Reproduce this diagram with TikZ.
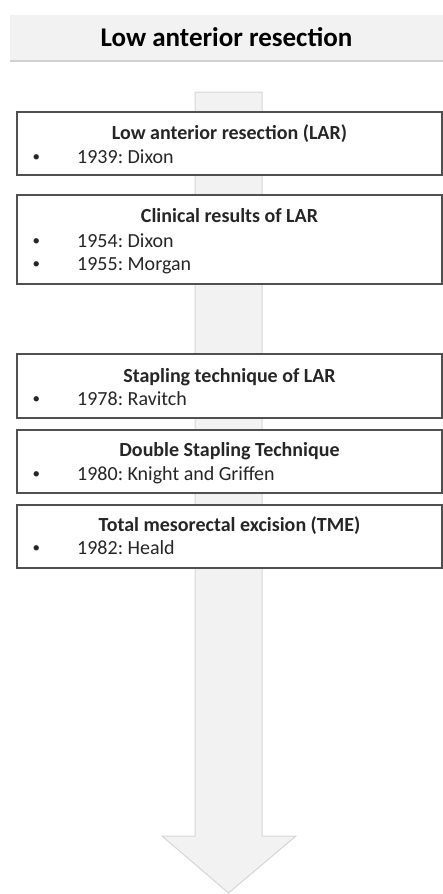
\documentclass[tikz,border=0pt]{standalone}
\usepackage{fontspec}
\setmainfont{Carlito}
\usepackage{tikz}
\usetikzlibrary{shadows}

\definecolor{bandgray}{HTML}{F2F2F2}
\definecolor{arrowline}{HTML}{D6D6D6}
\definecolor{boxline}{HTML}{505050}
\definecolor{textdark}{HTML}{262626}

\tikzset{
  eventbox/.style={draw=boxline, line width=1.2pt, fill=white, minimum width=425pt,
    inner sep=0pt, drop shadow={shadow xshift=0.8pt, shadow yshift=-1.2pt, fill=black, opacity=0.15}},
  boxtitle/.style={anchor=base, inner sep=0pt, text=textdark, font=\fontsize{20}{24}\selectfont\bfseries},
  boxitem/.style={anchor=base west, inner sep=0pt, text=textdark, font=\fontsize{20}{24}\selectfont},
}

\newcommand{\itembullet}{\makebox[45pt][l]{\hspace{0.5pt}\raisebox{1.5pt}{\fontsize{15}{15}\selectfont\textbullet}}}
\frenchspacing

\begin{document}
\begin{tikzpicture}[x=1pt, y=-1pt]
  \useasboundingbox (0,0) rectangle (443,894);

  % timeline arrow behind the boxes
  \draw[arrowline, fill=bandgray, line width=1pt, line join=miter]
    (195,92) -- (262,92) -- (262,836) -- (296,836) -- (228.5,893)
    -- (162,836) -- (195,836) -- cycle;

  % header band
  \node[fill=bandgray, minimum width=433pt, minimum height=45pt, inner sep=0pt,
    drop shadow={shadow xshift=0pt, shadow yshift=-2pt, fill=black, opacity=0.18},
    text=black, font=\fontsize{27}{32}\selectfont\bfseries] (head) at (226.5,37) {Low anterior resection};

  % boxes
  \node[eventbox, minimum height=63pt] (lar) at (229.5,143.5) {};
  \node[boxtitle] (lart) at (229.5,139) {Low anterior resection (LAR)};
  \node[boxitem] (lari) at (32,163) {\itembullet 1939: Dixon};

  \node[eventbox, minimum height=89pt] (clin) at (229.5,239.5) {};
  \node[boxtitle] (clint) at (229.5,222) {Clinical results of LAR};
  \node[boxitem] (clini) at (32,247) {\itembullet 1954: Dixon};
  \node[boxitem] (clinii) at (32,270) {\itembullet 1955: Morgan};

  \node[eventbox, minimum height=64pt] (stap) at (229.5,386) {};
  \node[boxtitle] (stapt) at (229.5,382) {Stapling technique of LAR};
  \node[boxitem] (stapi) at (32,405) {\itembullet 1978: Ravitch};

  \node[eventbox, minimum height=63pt] (dst) at (229.5,461.5) {};
  \node[boxtitle] (dstt) at (229.5,456) {Double Stapling Technique};
  \node[boxitem] (dsti) at (32,480) {\itembullet 1980: Knight and Griffen};

  \node[eventbox, minimum height=63pt] (tme) at (229.5,536.5) {};
  \node[boxtitle] (tmet) at (229.5,531) {Total mesorectal excision (TME)};
  \node[boxitem] (tmei) at (32,554) {\itembullet 1982: Heald};
\end{tikzpicture}
\end{document}
